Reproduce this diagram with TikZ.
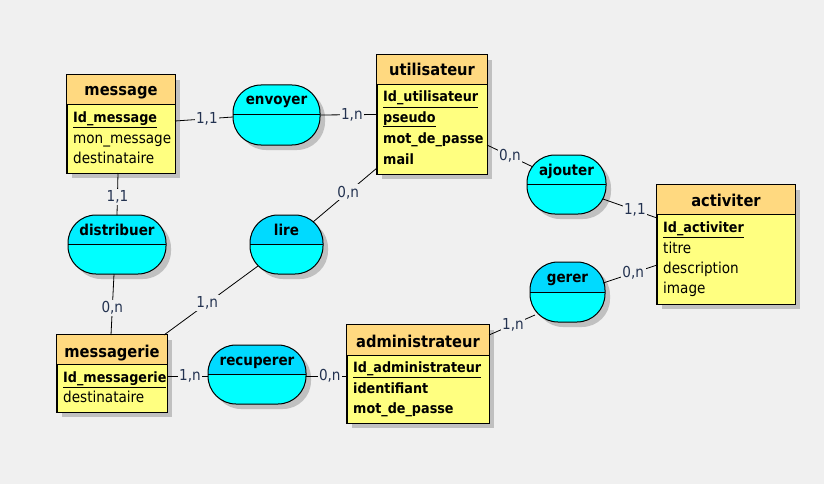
\documentclass[tikz,border=0pt]{standalone}
\usepackage{fontspec}
\setmainfont{DejaVu Sans Condensed}
\usetikzlibrary{shadows}
\definecolor{bg}{RGB}{240,240,240}
\definecolor{hdr}{RGB}{255,217,128}
\definecolor{body}{RGB}{255,255,128}
\definecolor{cyanc}{RGB}{0,255,255}
\definecolor{cyand}{RGB}{0,218,255}
\definecolor{cyanm}{RGB}{0,238,255}
\definecolor{shadowc}{RGB}{192,192,192}
\definecolor{lblc}{RGB}{35,50,80}
\newcommand\attfont{\fontsize{15.1}{18}\selectfont}
\newcommand\keyfont{\fontsize{14.2}{17}\selectfont\bfseries}
\newcommand\titfont{\fontsize{16.3}{19}\selectfont\bfseries}
\newcommand\asfont{\fontsize{15}{18}\selectfont\bfseries}
\tikzset{
  ent/.style={draw, line width=1pt, fill=body, inner sep=0pt,
    drop shadow={shadow xshift=5pt, shadow yshift=-5pt, fill=shadowc, opacity=1}},
  assoc/.style={draw, line width=1pt, fill=cyanc, inner sep=0pt, rounded corners=28pt,
    drop shadow={shadow xshift=5pt, shadow yshift=-5pt, fill=shadowc, opacity=1},
    path picture={\fill[#1, sharp corners] (path picture bounding box.north west) rectangle (path picture bounding box.east);
      \draw[line width=1pt, sharp corners] (path picture bounding box.west) -- (path picture bounding box.east);}},
  assoc/.default=cyanc,
  att/.style={font=\attfont, inner sep=0pt, anchor=base west},
  katt/.style={font=\keyfont, inner sep=0pt, anchor=base west},
  tit/.style={font=\titfont, inner sep=0pt, anchor=base},
  atit/.style={font=\asfont, inner sep=0pt, anchor=base},
  lbl/.style={font=\attfont, text=lblc, fill=bg, inner sep=1.5pt},
  conn/.style={line width=0.8pt, draw=black}
}
\begin{document}
\begin{tikzpicture}[x=1pt,y=-1pt]
\useasboundingbox[fill=bg] (0,0) rectangle (824,484);

% ---------- entities ----------
\node[ent, minimum width=108pt, minimum height=98pt] (msg) at (121,124) {};
\node[ent, minimum width=110pt, minimum height=119pt] (util) at (432,114.5) {};
\node[ent, minimum width=138pt, minimum height=119pt] (act) at (726,244.5) {};
\node[ent, minimum width=110pt, minimum height=77pt] (msgr) at (112,373.5) {};
\node[ent, minimum width=142pt, minimum height=98pt] (admin) at (418,374) {};

\foreach \e/\h in {msg/30, util/30, act/30, msgr/30, admin/31}{
  \fill[hdr] (\e.north west) rectangle ([yshift=-\h pt]\e.north east);
  \draw[line width=1pt] ([yshift=-\h pt]\e.north west) -- ([yshift=-\h pt]\e.north east);
  \draw[line width=1pt] (\e.north west) rectangle (\e.south east);
}

% message
\node[tit] (msgT) at (121,96) {message};
\node[katt] (msgA1) at (73,122) {\underline{Id\_message}};
\node[att] (msgA2) at (73,143) {mon\_message};
\node[att] (msgA3) at (73,163) {destinataire};
% utilisateur
\node[tit] (utilT) at (432,76) {utilisateur};
\node[katt] (utilA1) at (383,102) {\underline{Id\_utilisateur}};
\node[katt] (utilA2) at (383,122) {\underline{pseudo}};
\node[katt] (utilA3) at (383,143) {mot\_de\_passe};
\node[katt] (utilA4) at (383,164) {mail};
% activiter
\node[tit] (actT) at (726,206) {activiter};
\node[katt] (actA1) at (663,232) {\underline{Id\_activiter}};
\node[att] (actA2) at (663,253) {titre};
\node[att] (actA3) at (663,273) {description};
\node[att] (actA4) at (663,293) {image};
% messagerie
\node[tit] (msgrT) at (112,357) {messagerie};
\node[katt] (msgrA1) at (63,382) {\underline{Id\_messagerie}};
\node[att] (msgrA2) at (63,402) {destinataire};
% administrateur
\node[tit] (adminT) at (418,347) {administrateur};
\node[katt] (adminA1) at (353,372) {\underline{Id\_administrateur}};
\node[katt] (adminA2) at (353,393) {identifiant};
\node[katt] (adminA3) at (353,413) {mot\_de\_passe};

% ---------- associations ----------
\node[assoc, minimum width=87pt, minimum height=60pt] (env) at (276.5,115) {};
\node[assoc, minimum width=79pt, minimum height=59pt] (ajo) at (566.5,184.5) {};
\node[assoc=cyanm, minimum width=98pt, minimum height=59pt] (dis) at (117,244.5) {};
\node[assoc=cyand, minimum width=73pt, minimum height=59pt] (lire) at (286.5,244.5) {};
\node[assoc=cyand, minimum width=98pt, minimum height=59pt] (rec) at (257,374.5) {};
\node[assoc=cyand, minimum width=75pt, minimum height=60pt] (ger) at (567.5,292) {};

\node[atit] (envT) at (276.5,105) {envoyer};
\node[atit] (ajoT) at (566.5,175) {ajouter};
\node[atit] (disT) at (117,235) {distribuer};
\node[atit] (lireT) at (286.5,235) {lire};
\node[atit] (recT) at (257,365) {recuperer};
\node[atit] (gerT) at (567.5,282) {gerer};

% ---------- connectors ----------
\draw[conn] ([shift={(54,-3)}]msg.center) -- node[lbl, pos=0.55] (l1) {1,1} ([shift={(-43.5,2)}]env.center);
\draw[conn] (env.east) -- node[lbl, pos=0.56] (l2) {1,n} (util.west);
\draw[conn] ([shift={(55,30.5)}]util.center) -- node[lbl, pos=0.5] (l3) {0,n} ([shift={(-33.5,-17.5)}]ajo.center);
\draw[conn] ([shift={(36.5,14.5)}]ajo.center) -- node[lbl, pos=0.59] (l4) {1,1} ([shift={(-69,-26.5)}]act.center);
\draw[conn] ([shift={(35.5,-9)}]ger.center) -- node[lbl, pos=0.56] (l5) {0,n} ([shift={(-69,20.5)}]act.center);
\draw[conn] ([shift={(71,-39)}]admin.center) -- node[lbl, pos=0.52] (l6) {1,n} ([shift={(-32.5,23)}]ger.center);
\draw[conn] ([shift={(49,1.5)}]rec.center) -- node[lbl, pos=0.58] (l7) {0,n} ([shift={(-71,2)}]admin.center);
\draw[conn] ([shift={(55,2.5)}]msgr.center) -- node[lbl, pos=0.56] (l8) {1,n} ([shift={(-49,1.5)}]rec.center);
\draw[conn] ([shift={(-28.5,21.5)}]lire.center) -- node[lbl, pos=0.54] (l9) {1,n} ([shift={(52,-38.5)}]msgr.center);
\draw[conn] ([shift={(-3,29.5)}]dis.center) -- node[lbl, pos=0.56] (l10) {0,n} ([shift={(-1,-38.5)}]msgr.center);
\draw[conn] ([shift={(-3,49)}]msg.center) -- node[lbl, pos=0.57] (l11) {1,1} ([shift={(0,-29.5)}]dis.center);
\draw[conn] ([shift={(-55,53.5)}]util.center) -- node[lbl, pos=0.45] (l12) {0,n} ([shift={(26.5,-22.5)}]lire.center);
\end{tikzpicture}
\end{document}
